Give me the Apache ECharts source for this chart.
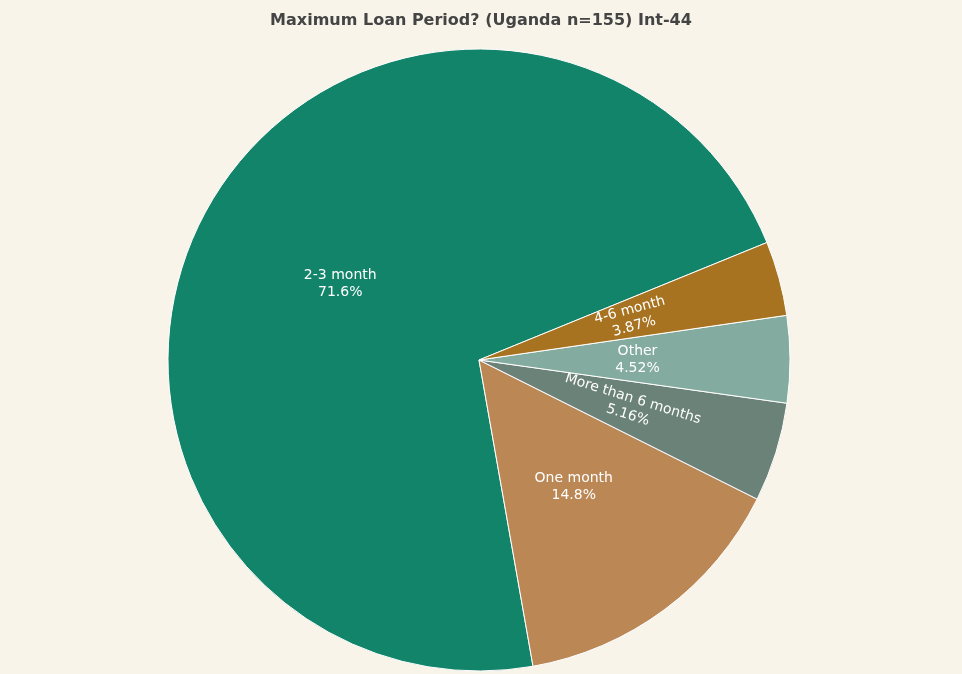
<!DOCTYPE html>
<html>
<head>
<meta charset="utf-8">
<script src="https://cdn.jsdelivr.net/npm/echarts@6/dist/echarts.min.js"></script>
<style>html,body{margin:0;padding:0;background:#f8f4ea;}#main{width:962px;height:674px;}</style>
</head>
<body>
<div id="main"></div>
<script>
var categories = ['2-3 month', 'One month', 'More than 6 months', 'Other', '4-6 month'];
var counts = [111, 23, 8, 7, 6];
var colors = ['#12846a', '#bb8755', '#6b8278', '#83ab9f', '#a87320'];
var rotations = [0, 0, 'radial', 0, 'radial'];

var chart = echarts.init(document.getElementById('main'));
var data = [];
for (var i = 0; i < categories.length; i++) {
    data.push({
        name: categories[i],
        value: counts[i],
        itemStyle: { color: colors[i] },
        label: { rotate: rotations[i] }
    });
}
chart.setOption({
    backgroundColor: '#f8f4ea',
    title: {
        text: 'Maximum Loan Period? (Uganda n=155) Int-44',
        left: 'center',
        top: 8,
        textStyle: { fontFamily: 'DejaVu Sans', fontSize: 16, fontWeight: 'bold', color: '#444' }
    },
    series: [{
        type: 'pie',
        center: [479, 360],
        radius: [0, 311],
        startAngle: 22.2,
        clockwise: false,
        avoidLabelOverlap: false,
        itemStyle: { borderColor: '#fff', borderWidth: 1 },
        label: {
            show: true,
            position: 'inside',
            color: '#fff',
            fontFamily: 'DejaVu Sans',
            fontSize: 14,
            lineHeight: 17,
            formatter: function (p) {
                var pct = p.value / 155 * 100;
                var s = pct >= 10 ? pct.toFixed(1) : pct.toFixed(2);
                return p.name + '\n' + s + '%';
            }
        },
        labelLine: { show: false },
        data: data
    }]
});
</script>
</body>
</html>
